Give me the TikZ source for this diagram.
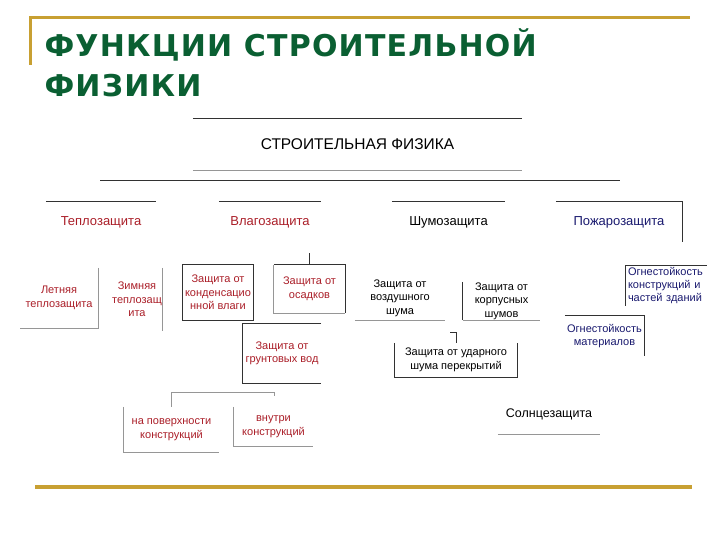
\documentclass[tikz,border=0pt]{standalone}
\usepackage{fontspec}
\setmainfont{Liberation Sans}
\newfontfamily\titolo[LetterSpace=4.0]{DejaVu Sans}
\definecolor{oro}{RGB}{200,160,50}
\definecolor{verde}{RGB}{10,95,50}
\definecolor{rosso}{RGB}{170,30,40}
\definecolor{blu}{RGB}{25,25,110}
\definecolor{linea}{RGB}{50,50,50}
\definecolor{grigio}{RGB}{150,150,150}
\tikzset{
  casella/.style={inner sep=0pt, align=center, font=\fontsize{11}{13.5}\selectfont},
  grande/.style={inner sep=0pt, align=center, font=\fontsize{13}{16}\selectfont},
  bordo/.style={draw=linea, line width=0.9pt},
  bordochiaro/.style={draw=grigio, line width=0.9pt},
  intestazione/.style={anchor=base west, text=verde, font=\titolo\bfseries\fontsize{30}{36}\selectfont}
}
\begin{document}
\begin{tikzpicture}[x=1pt,y=-1pt]
    \useasboundingbox (0,0) rectangle (720,540);

    % Cornice color oro
    \draw[oro, line width=3pt] (30,65) -- (30,18) -- (690,18);
    \draw[oro, line width=4pt] (35,487) -- (692,487);

    % Titolo
    \node[intestazione] (tit1) at (41,57) {ФУНКЦИИ СТРОИТЕЛЬНОЙ};
    \node[intestazione] (tit2) at (41,97) {ФИЗИКИ};

    % Casella principale e barra orizzontale
    \node[grande, font=\fontsize{15.5}{18}\selectfont, minimum width=329pt, minimum height=51pt] (fisica) at (357.5,144.5) {СТРОИТЕЛЬНАЯ ФИЗИКА};
    \draw[bordo] (fisica.north west) -- (fisica.north east);
    \draw[bordochiaro] (fisica.south west) -- (fisica.south east);
    \coordinate (barraS) at (100,180);
    \coordinate (barraD) at (620,180);
    \draw[bordo] (barraS) -- (barraD);

    % Secondo livello
    \node[grande, text=rosso, minimum width=110pt, minimum height=40pt] (teplo) at (101,222) {Теплозащита};
    \node[grande, text=rosso, minimum width=102pt, minimum height=40pt] (vlaga) at (270,222) {Влагозащита};
    \node[grande, minimum width=113pt, minimum height=40pt] (shum) at (448.5,222) {Шумозащита};
    \node[grande, text=blu, minimum width=126pt, minimum height=40pt] (pozhar) at (619,222) {Пожарозащита};
    \draw[bordo] (teplo.north west) -- (teplo.north east);
    \draw[bordo] (vlaga.north west) -- (vlaga.north east);
    \draw[bordo] (shum.north west) -- (shum.north east);
    \draw[bordo] (pozhar.north west) -- (pozhar.north east) -- (pozhar.south east);

    % Teplozashchita
    \node[casella, text=rosso, minimum width=78pt, minimum height=60pt] (letn) at (59,298) {Летняя\\теплозащита};
    \node[casella, text=rosso, minimum width=50pt, minimum height=63pt] (zimn) at (137,299.5) {Зимняя\\теплозащ\\ита};
    \draw[bordochiaro] (letn.north east) -- (letn.south east) -- (letn.south west);
    \draw[bordochiaro] (zimn.north east) -- (zimn.south east);

    % Vlagozashchita
    \node[casella, text=rosso, minimum width=70pt, minimum height=55pt] (kond) at (218,292.5) {Защита от\\конденсацио\\нной влаги};
    \node[casella, text=rosso, minimum width=71pt, minimum height=48pt] (osad) at (309.5,289) {Защита от\\осадков};
    \node[casella, text=rosso, minimum width=78pt, minimum height=59pt] (grunt) at (282,353.5) {Защита от\\грунтовых вод};
    \draw[bordo] (kond.north west) rectangle (kond.south east);
    \draw[bordo] (osad.north west) -- (osad.north east) -- (osad.south east);
    \draw[bordochiaro] (osad.north west) -- (osad.south west) -- (osad.south east);
    \draw[bordo] (grunt.north east) -- (grunt.north west) -- (grunt.south west) -- (grunt.south east);
    \coordinate (vlagaG) at (309.5,253);
    \draw[bordo] (vlagaG) -- (osad.north);

    % Rami sotto le acque di falda
    \node[casella, text=rosso, minimum width=95pt, minimum height=45pt] (povh) at (171.5,429.5) {на поверхности\\конструкций};
    \node[casella, text=rosso, minimum width=79pt, minimum height=39pt] (vnutr) at (273.5,426.5) {внутри\\конструкций};
    \draw[bordochiaro] (povh.north west) -- (povh.south west) -- (povh.south east);
    \draw[bordochiaro] (vnutr.north west) -- (vnutr.south west) -- (vnutr.south east);
    \coordinate (ramoD) at (274,392);
    \draw[bordochiaro] (povh.north) |- (ramoD) -- ++(0,4);

    % Shumozashchita
    \node[casella, minimum width=90pt, minimum height=44pt] (vozd) at (400,298) {Защита от\\воздушного\\шума};
    \node[casella, minimum width=77pt, minimum height=38pt] (korp) at (501.5,301) {Защита от\\корпусных\\шумов};
    \node[casella, minimum width=122pt, minimum height=34pt] (udar) at (456,360) {Защита от ударного\\шума перекрытий};
    \draw[bordochiaro] (vozd.south west) -- (vozd.south east);
    \draw[bordo] (korp.north west) -- (korp.south west);
    \draw[bordochiaro] (korp.south west) -- (korp.south east);
    \draw[bordo] (udar.north west) -- (udar.south west) -- (udar.south east) -- (udar.north east);
    \coordinate (udarA) at (450,332);
    \draw[bordo] (udarA) -| (udar.north);

    % Pozharozashchita
    \node[casella, text=blu, font=\fontsize{11}{13}\selectfont, align=left, text width=77pt, inner xsep=2pt, minimum height=39pt] (ogn1) at (666.5,286) {Огнестойкость\\конструкций и\\частей зданий};
    \node[casella, text=blu, minimum width=79pt, minimum height=40pt] (ogn2) at (604.5,336) {Огнестойкость\\материалов};
    \draw[bordo] (ogn1.south west |- 0,265) -- (ogn1.south west);
    \draw[bordo] (ogn1.south west |- 0,265) -- (ogn1.north east |- 0,265);
    \draw[bordo] (ogn2.north west) -- (ogn2.north east) -- (ogn2.south east);

    % Solntsezashchita
    \node[grande, font=\fontsize{12.5}{15}\selectfont, minimum width=102pt, minimum height=39pt] (solnce) at (549,414.5) {Солнцезащита};
    \draw[bordochiaro] (solnce.south west) -- (solnce.south east);
\end{tikzpicture}
\end{document}
